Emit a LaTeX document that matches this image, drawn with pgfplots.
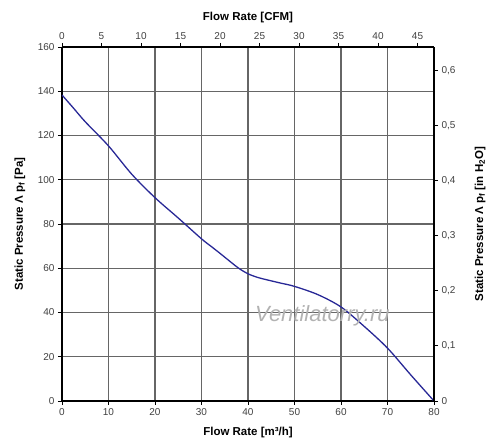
\documentclass[border=0pt]{standalone}
\usepackage{pgfplots}
\pgfplotsset{compat=1.18}
\usepackage{fontspec}
\setmainfont{Liberation Sans}
\definecolor{curve}{RGB}{40,40,150}
\begin{document}
\begin{tikzpicture}[x=1pt,y=1pt]
\useasboundingbox (-62,-45) rectangle (438,401);
\pgfplotsset{common/.style={scale only axis, width=372pt, height=354pt, at={(0,0)}, anchor=south west,
  tick label style={font=\fontsize{10}{12}\selectfont, text=black!75},
  label style={font=\fontsize{11.5}{13}\selectfont\bfseries},
  /pgf/number format/assume math mode=true,
  axis line style={line width=1.6pt, black},
  tick align=outside, major tick length=4pt, tick style={black, line width=0.8pt}}}
\begin{axis}[common, xmin=0, xmax=80, ymin=0, ymax=160,
  xtick={0,10,...,80}, ytick={0,20,...,160},
  axis x line*=bottom, axis y line*=left,
  grid=major, grid style={line width=1.1pt, black!60},
  xlabel={Flow Rate [m³/h]},
  xlabel style={at={(axis description cs:0.5,-0.09)}, anchor=center},
  ylabel={Static Pressure Λ p\textsubscript{f} [Pa]},
  ylabel style={at={(axis description cs:-0.113,0.5)}, anchor=center}]
\addplot[smooth, tension=0.5, color=curve, line width=1.3pt] coordinates {
(0,138.3)(2.5,132.3)(5,126.2)(10,115.3)(15,102.5)(20,91.9)(25,82.7)(30,73.3)
(32,70.0)(34,66.7)(36,63.3)(38,60.0)(40,57.5)(42,55.9)(44,54.8)(47,53.3)(50,51.8)(55,48.1)(60,42.5)(65,33.7)
(70,23.9)(75,11.8)(80,0)};
\node[text=black!30, font=\fontsize{22}{24}\selectfont\itshape] at (axis cs:56,38.5) {Ventilatorry.ru};
\end{axis}
\begin{axis}[common, xmin=0, xmax=47.086, ymin=0, ymax=160,
  axis x line*=top, axis y line=none, xtick={0,5,...,45},
  xlabel={Flow Rate [CFM]},
  xlabel style={at={(axis description cs:0.5,1.082)}, anchor=center}]
\end{axis}
\begin{axis}[common, xmin=0, xmax=80, ymin=0, ymax=0.64234,
  axis y line*=right, axis x line=none,
  ytick={0,0.1,0.2,0.3,0.4,0.5,0.6}, /pgf/number format/use comma,
  ylabel={Static Pressure Λ p\textsubscript{f} [in H\textsubscript{2}O]},
  ylabel style={at={(axis description cs:1.124,0.5)}, anchor=center, rotate=0}]
\end{axis}
\end{tikzpicture}
\end{document}
